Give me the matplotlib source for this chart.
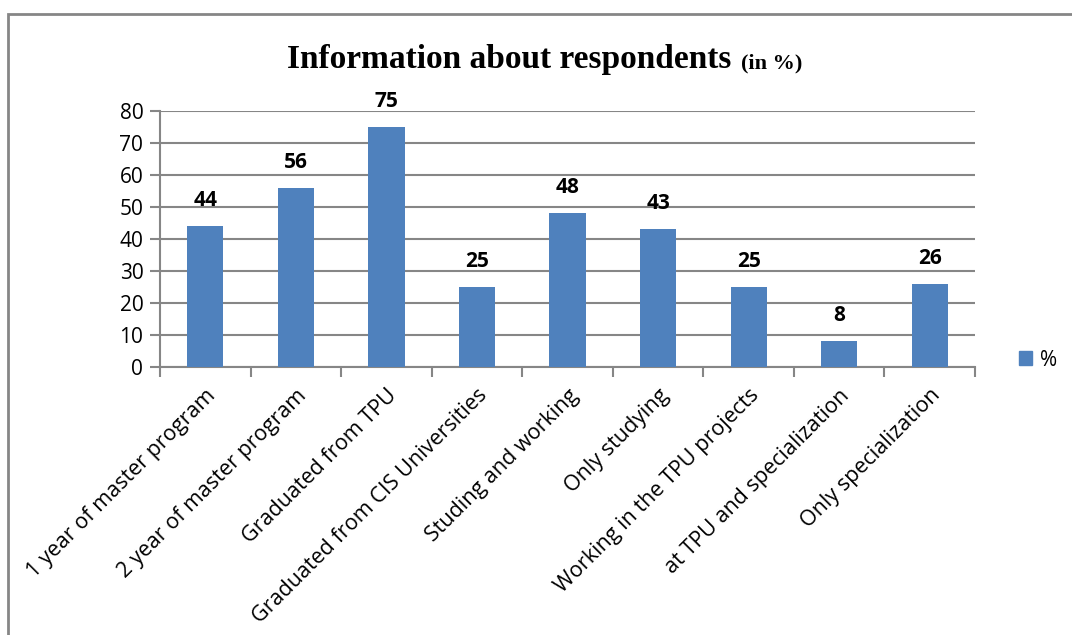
import matplotlib.pyplot as plt
from matplotlib.patches import Rectangle, Patch

categories = ["1 year of master program", "2 year of master program", "Graduated from TPU",
              "Graduated from CIS Universities", "Studing and working", "Only studying",
              "Working in the TPU projects", "at TPU and specialization", "Only specialization"]
values = [44, 56, 75, 25, 48, 43, 25, 8, 26]
yticks = [0, 10, 20, 30, 40, 50, 60, 70, 80]

BAR = '#4F81BD'
GREY = '#868686'
W, H = 1072, 635
FONT = 'Open Sans'

fig = plt.figure(figsize=(W / 100, H / 100), dpi=100)
fig.patch.set_facecolor('white')

# chart border (cropped at right and bottom in the reference)
fig.patches.append(Rectangle((8 / W, -0.1), 1.2, 1 - 14 / H + 0.1, transform=fig.transFigure,
                             fill=False, edgecolor=GREY, linewidth=2))

ax = fig.add_axes([160 / W, 1 - 367 / H, (975 - 160) / W, (367 - 111) / H])
x = list(range(len(categories)))
ax.bar(x, values, width=0.4, color=BAR, zorder=3)
ax.set_xlim(-0.5, len(categories) - 0.5)
ax.set_ylim(0, 80)
ax.set_yticks(yticks)
ax.set_yticklabels([str(v) for v in yticks], fontsize=15, family=FONT)
ax.grid(axis='y', color=GREY, linewidth=1.5, zorder=0)
ax.set_axisbelow(True)

for s in ['top', 'right']:
    ax.spines[s].set_visible(False)
for s in ['left', 'bottom']:
    ax.spines[s].set_color(GREY)
    ax.spines[s].set_linewidth(1.5)

# tick marks on category boundaries, labels at centres
ax.set_xticks([i - 0.5 for i in range(len(categories) + 1)])
ax.set_xticklabels([])
ax.set_xticks(x, minor=True)
ax.set_xticklabels(categories, minor=True, rotation=45, ha='right', rotation_mode='anchor',
                   fontsize=15.5, family=FONT)
ax.tick_params(axis='x', which='minor', length=0, pad=13)
ax.tick_params(axis='x', which='major', length=7, width=1.5, color=GREY)
ax.tick_params(axis='y', length=7, width=1.5, color=GREY, pad=5)

for xi, v in zip(x, values):
    ax.annotate(str(v), (xi, v), xytext=(0, 11), textcoords='offset points',
                ha='center', va='bottom', fontsize=15, fontweight='bold', family=FONT)

fig.text(731 / W, 1 - 68 / H, "Information about respondents", ha='right', va='baseline',
         fontsize=24, fontweight='bold', family='Liberation Serif')
fig.text(741 / W, 1 - 68 / H, "(in %)", ha='left', va='baseline',
         fontsize=16, fontweight='bold', family='Liberation Serif')

fig.legend(handles=[Patch(color=BAR, label='%')], loc='center left',
           bbox_to_anchor=(1000 / W, 1 - 360 / H), frameon=False,
           handlelength=0.65, handleheight=0.65, handletextpad=0.35, prop={'family': FONT, 'size': 15})

fig.savefig('out.png', dpi=100, facecolor='white')
